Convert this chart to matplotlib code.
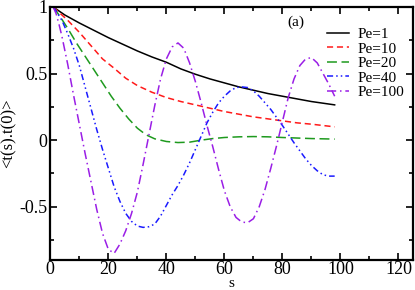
import matplotlib
matplotlib.use("Agg")
import matplotlib.pyplot as plt
from matplotlib.ticker import MultipleLocator, FixedLocator

plt.rcParams['font.family'] = ['Liberation Serif', 'DejaVu Serif']
plt.rcParams['axes.unicode_minus'] = False

# values
s_pe1 = [1, 5, 10, 15, 20, 25, 30, 35, 40, 45, 50, 55, 60, 65, 70, 75, 80, 85, 90, 98]
c_pe1 = [1.0, 0.94, 0.88, 0.825, 0.77, 0.72, 0.67, 0.625, 0.585, 0.535, 0.495, 0.46, 0.43,
         0.40, 0.375, 0.35, 0.33, 0.31, 0.29, 0.265]

s_pe10 = [1, 3, 6, 10, 14, 18, 22, 26, 30, 35, 40, 45, 50, 55, 60, 65, 70, 75, 80, 85, 90, 98]
c_pe10 = [1.0, 0.96, 0.90, 0.81, 0.71, 0.61, 0.54, 0.465, 0.41, 0.36, 0.32, 0.29, 0.265,
          0.24, 0.215, 0.195, 0.175, 0.16, 0.145, 0.13, 0.12, 0.10]

s_pe20 = [1, 3, 6, 9, 12, 15, 18, 21, 24, 27, 30, 33, 36, 40, 44, 48, 52, 56, 60, 65, 70,
          75, 80, 85, 90, 98]
c_pe20 = [1.0, 0.94, 0.84, 0.73, 0.63, 0.53, 0.43, 0.33, 0.24, 0.16, 0.09, 0.04, 0.01,
          -0.01, -0.018, -0.015, 0.0, 0.012, 0.02, 0.025, 0.027, 0.025, 0.02, 0.016, 0.012, 0.008]

s_pe40 = [1, 2, 4, 6, 8, 10, 12, 14, 16, 18, 20, 22, 24, 26, 28, 30, 32, 34, 36, 38, 40, 42,
          44, 46, 48, 50, 52, 54, 56, 58, 60, 62, 64, 66, 68, 70, 72, 74, 76, 78, 80, 82, 84,
          86, 88, 90, 92, 94, 96, 98]
c_pe40 = [1.0, 0.97, 0.90, 0.80, 0.69, 0.56, 0.40, 0.24, 0.08, -0.07, -0.21, -0.35, -0.46,
          -0.55, -0.61, -0.645, -0.655, -0.65, -0.63, -0.57, -0.49, -0.41, -0.34, -0.26, -0.17,
          -0.07, 0.03, 0.13, 0.21, 0.28, 0.33, 0.37, 0.395, 0.40, 0.395, 0.37, 0.33, 0.28, 0.23,
          0.17, 0.11, 0.045, -0.02, -0.08, -0.14, -0.19, -0.23, -0.26, -0.27, -0.27]

s_pe100 = [1, 2, 3, 4, 6, 8, 10, 12, 14, 16, 18, 20, 22, 24, 26, 28, 30, 32, 34, 36, 38, 40,
           42, 44, 46, 48, 50, 52, 54, 56, 58, 60, 62, 64, 66, 68, 70, 72, 74, 76, 78, 80, 82,
           84, 86, 88, 90, 92, 94, 96, 98]
c_pe100 = [1.0, 0.95, 0.87, 0.78, 0.57, 0.34, 0.12, -0.10, -0.31, -0.52, -0.70, -0.82, -0.85,
           -0.78, -0.68, -0.55, -0.39, -0.18, 0.04, 0.26, 0.46, 0.61, 0.70, 0.73, 0.69, 0.58,
           0.44, 0.28, 0.11, -0.05, -0.22, -0.38, -0.50, -0.58, -0.615, -0.62, -0.59, -0.50,
           -0.37, -0.21, -0.04, 0.14, 0.32, 0.46, 0.56, 0.61, 0.62, 0.58, 0.50, 0.42, 0.33]

labels = ["Pe=1", "Pe=10", "Pe=20", "Pe=40", "Pe=100"]

fig = plt.figure(figsize=(4.15, 2.90), dpi=100)
ax = fig.add_axes([0.1212, 0.1034, 0.874, 0.8725])

lw = 1.1
ax.plot(s_pe1, c_pe1, color='black', lw=lw, label=labels[0])
ax.plot(s_pe10, c_pe10, color='#ff1a1a', lw=lw, dashes=(4, 2.5), label=labels[1])
ax.plot(s_pe20, c_pe20, color='#1e9a1e', lw=lw, dashes=(6.5, 3), label=labels[2])
ax.plot(s_pe40, c_pe40, color='#1a1aff', lw=lw, dashes=(4, 2, 1, 2, 1, 2), label=labels[3])
ax.plot(s_pe100, c_pe100, color='#9a1ee6', lw=lw, dashes=(6, 2.5, 1, 2.5), label=labels[4])

ax.set_xlim(0, 125)
ax.set_ylim(-0.9, 1.0)
ax.xaxis.set_major_locator(FixedLocator([0, 20, 40, 60, 80, 100, 120]))
ax.xaxis.set_minor_locator(MultipleLocator(10))
ax.yaxis.set_major_locator(FixedLocator([-0.5, 0, 0.5, 1]))
ax.yaxis.set_minor_locator(FixedLocator([-0.75, -0.25, 0.25, 0.75]))
ax.set_yticklabels(["-0.5", "0", "0.5", "1"])

ax.tick_params(which='both', direction='in', top=True, right=True, width=1.2, labelsize=13)
ax.tick_params(axis='x', pad=1)
ax.tick_params(axis='y', pad=2)
ax.tick_params(which='major', length=5)
ax.tick_params(which='minor', length=3)
for sp in ax.spines.values():
    sp.set_linewidth(1.6)

fig.text(0.558, 0.0, "s", fontsize=11, ha='center', va='bottom')
ax.set_ylabel("<t(s).t(0)>", fontsize=12, labelpad=2)

ax.text(0.653, 0.94, "(a)", transform=ax.transAxes, fontsize=11, ha='left', va='center')

ax.legend(loc='upper right', bbox_to_anchor=(1.0, 0.955), frameon=False, fontsize=11,
          handlelength=1.5, handletextpad=0.5, labelspacing=0.05, borderaxespad=0.2)

fig.savefig("out.png", dpi=100)
